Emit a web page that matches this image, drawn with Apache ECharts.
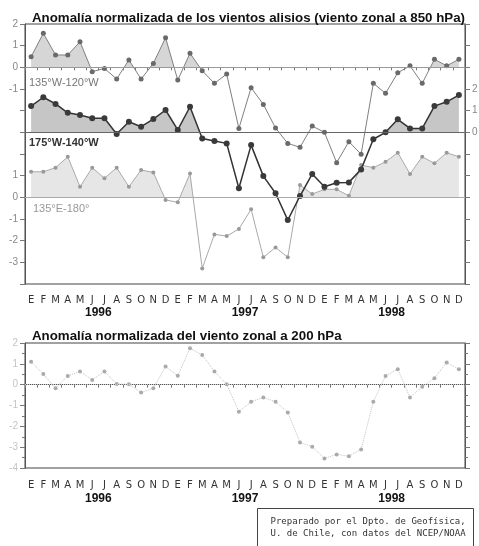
<!DOCTYPE html>
<html>
<head>
<meta charset="utf-8">
<script src="https://cdn.jsdelivr.net/npm/echarts@6.0.0/dist/echarts.min.js"></script>
<style>
    body { margin: 0; background: #fff; }
    #chart { width: 479px; height: 546px; }
</style>
</head>
<body>
<div id="chart"></div>
<script>
// Trade wind anomalies 1996-1998 (850 hPa) and zonal wind at 200 hPa

const monthLetters = ['E', 'F', 'M', 'A', 'M', 'J', 'J', 'A', 'S', 'O', 'N', 'D'];
const years = ['1996', '1997', '1998'];

// 135°W-120°W
const east850 = [0.49, 1.57, 0.57, 0.57, 1.18, -0.2, -0.05, -0.54, 0.34, -0.54, 0.18, 1.37,
    -0.59, 0.65, -0.16, -0.74, -0.31, -2.82, -0.94, -1.71, -2.8, -3.51, -3.69, -2.71,
    -3.0, -4.4, -3.43, -4.01, -0.74, -1.2, -0.25, 0.07, -0.74, 0.37, 0.07, 0.37];

// 175°W-140°W
const central850 = [1.21, 1.62, 1.31, 0.9, 0.8, 0.65, 0.65, -0.08, 0.49, 0.26, 0.61, 1.03,
    0.11, 1.18, -0.28, -0.4, -0.51, -2.58, -0.59, -2.02, -2.81, -4.05, -2.94, -1.92,
    -2.51, -2.33, -2.31, -1.71, -0.32, 0.0, 0.6, 0.18, 0.18, 1.21, 1.41, 1.72];

// 135°E-180°
const west850 = [1.18, 1.18, 1.37, 1.87, 0.49, 1.37, 0.88, 1.37, 0.49, 1.26, 1.15, -0.12,
    -0.23, 1.1, -3.28, -1.71, -1.79, -1.46, -0.55, -2.77, -2.31, -2.77, 0.57, 0.15,
    0.37, 0.37, 0.07, 1.49, 1.37, 1.64, 2.06, 1.08, 1.87, 1.57, 2.06, 1.87];

// zonal wind 200 hPa
const zonal200 = [1.1, 0.51, -0.17, 0.42, 0.63, 0.23, 0.63, 0.03, 0.02, -0.38, -0.17, 0.87,
    0.43, 1.75, 1.43, 0.63, 0.02, -1.3, -0.82, -0.61, -0.82, -1.33, -2.77, -2.98,
    -3.54, -3.35, -3.43, -3.11, -0.82, 0.42, 0.74, -0.61, -0.1, 0.31, 1.06, 0.74];

const monthKeys = [];
years.forEach(y => monthLetters.forEach((m, i) => monthKeys.push(y + '-' + (i + 1))));

const FONT = 'Liberation Sans';

document.addEventListener('DOMContentLoaded', function() {
    const chart = echarts.init(document.getElementById('chart'), null, { renderer: 'canvas' });
    chart.setOption(buildOption());
});

function monthAxis(gridIndex, margin) {
    return {
        type: 'category',
        gridIndex: gridIndex,
        data: monthKeys,
        boundaryGap: true,
        axisLine: { lineStyle: { color: '#555', width: 1 } },
        axisTick: { show: true, interval: 0, length: 3, lineStyle: { color: '#777' } },
        axisLabel: {
            interval: 0,
            margin: margin,
            color: '#333',
            fontFamily: 'DejaVu Sans',
            fontSize: 10,
            formatter: (v, i) => monthLetters[i % 12]
        },
        splitLine: { show: false }
    };
}

function yearAxis(gridIndex, margin) {
    return {
        type: 'category',
        gridIndex: gridIndex,
        position: 'bottom',
        data: years,
        axisLine: { show: false },
        axisTick: { show: false },
        axisLabel: { interval: 0, margin: margin, color: '#111', fontFamily: FONT, fontWeight: 'bold', fontSize: 12 },
        splitLine: { show: false }
    };
}

function valueAxis(gridIndex, position, min, max, labelFn, showLine, labelColor) {
    return {
        type: 'value',
        gridIndex: gridIndex,
        position: position,
        min: min,
        max: max,
        interval: 1,
        axisLine: { show: showLine, lineStyle: { color: '#555', width: 1 } },
        axisTick: { show: showLine, length: 5, lineStyle: { color: '#777' } },
        axisLabel: {
            margin: 7,
            color: labelColor || '#888',
            fontFamily: FONT,
            fontSize: 10,
            formatter: labelFn
        },
        splitLine: { show: false }
    };
}

function zeroLine(color, type) {
    return {
        silent: true,
        symbol: 'none',
        label: { show: false },
        lineStyle: { color: color, type: type, width: 1 },
        data: [{ yAxis: 0 }]
    };
}

function areaSeries(yIndex, data) {
    return {
        type: 'line',
        xAxisIndex: 0,
        yAxisIndex: yIndex,
        data: data,
        showSymbol: false,
        silent: true,
        z: 1,
        lineStyle: { width: 0, opacity: 0 },
        areaStyle: { opacity: 1 }
    };
}

// shade only the part of the area that lies above the zero line
function positiveFill(seriesIndex, color) {
    return {
        type: 'piecewise',
        show: false,
        seriesIndex: seriesIndex,
        dimension: 1,
        pieces: [
            { gt: 0, lte: 50, color: color },
            { gt: -50, lte: 0, color: 'rgba(255,255,255,0)' }
        ]
    };
}

function buildOption() {
    return {
        backgroundColor: '#fff',
        animation: false,
        textStyle: { fontFamily: FONT },
        title: [
            {
                text: 'Anomalía normalizada de los vientos alisios (viento zonal a 850 hPa)',
                left: 27, top: 7,
                textStyle: { fontSize: 13.3, fontWeight: 'bold', color: '#111', fontFamily: FONT }
            },
            {
                text: 'Anomalía normalizada del viento zonal a 200 hPa',
                left: 27, top: 325,
                textStyle: { fontSize: 13.3, fontWeight: 'bold', color: '#111', fontFamily: FONT }
            }
        ],
        grid: [
            { left: 25, right: 14, top: 24, height: 260, show: true, borderColor: '#444', borderWidth: 1, backgroundColor: 'transparent', outerBoundsMode: 'none' },
            { left: 25, right: 14, top: 343, height: 125, show: true, borderColor: '#444', borderWidth: 1, backgroundColor: 'transparent', outerBoundsMode: 'none' }
        ],
        xAxis: [
            monthAxis(0, 11),
            yearAxis(0, 23),
            monthAxis(1, 12),
            yearAxis(1, 25)
        ],
        yAxis: [
            // each 850 hPa band has its own scale, offset by 3 units
            valueAxis(0, 'left', -10, 2, v => (v >= -1 ? String(v) : ''), true),
            valueAxis(0, 'right', -7, 5, v => (v >= 0 && v <= 2 ? String(v) : ''), true),
            valueAxis(0, 'left', -4, 8, v => (v >= -3 && v <= 1 ? String(v) : ''), false),
            Object.assign(valueAxis(1, 'left', -4, 2, v => String(v), true, '#c4c4c4'), {
                minorTick: { show: true, splitNumber: 2, length: 3, lineStyle: { color: '#777' } }
            }),
            Object.assign(valueAxis(1, 'right', -4, 2, () => '', true), {
                minorTick: { show: true, splitNumber: 2, length: 3, lineStyle: { color: '#777' } }
            })
        ],
        visualMap: [
            positiveFill(0, '#d6d6d6'),
            positiveFill(2, '#c6c6c6'),
            positiveFill(4, '#e6e6e6')
        ],
        series: [
            areaSeries(0, east850),
            {
                name: '135°W-120°W',
                type: 'line',
                xAxisIndex: 0,
                yAxisIndex: 0,
                data: east850,
                z: 3,
                symbol: 'circle',
                symbolSize: 5,
                lineStyle: { color: '#808080', width: 1 },
                itemStyle: { color: '#6a6a6a' },
                markLine: zeroLine('#999', 'solid')
            },
            areaSeries(1, central850),
            {
                name: '175°W-140°W',
                type: 'line',
                xAxisIndex: 0,
                yAxisIndex: 1,
                data: central850,
                z: 4,
                symbol: 'circle',
                symbolSize: 6,
                lineStyle: { color: '#333', width: 1.5 },
                itemStyle: { color: '#3a3a3a' },
                markLine: zeroLine('#666', 'solid')
            },
            areaSeries(2, west850),
            {
                name: '135°E-180°',
                type: 'line',
                xAxisIndex: 0,
                yAxisIndex: 2,
                data: west850,
                z: 2,
                symbol: 'circle',
                symbolSize: 4,
                lineStyle: { color: '#aaa', width: 1 },
                itemStyle: { color: '#999' },
                markLine: zeroLine('#aaa', 'solid')
            },
            {
                name: '200 hPa',
                type: 'line',
                xAxisIndex: 2,
                yAxisIndex: 3,
                data: zonal200,
                symbol: 'circle',
                symbolSize: 4,
                lineStyle: { color: '#c4c4c4', width: 1, type: 'dotted' },
                itemStyle: { color: '#aaa' },
                markLine: zeroLine('#ccc', 'dotted')
            }
        ],
        graphic: [
            { type: 'text', left: 29, top: 77, style: { text: '135°W-120°W', fill: '#777', font: '11px ' + FONT } },
            { type: 'text', left: 29, top: 137, style: { text: '175°W-140°W', fill: '#333', font: 'bold 11px ' + FONT } },
            { type: 'text', left: 33, top: 203, style: { text: '135°E-180°', fill: '#999', font: '11px ' + FONT } },
            {
                type: 'group',
                left: 257,
                top: 508,
                children: [
                    { type: 'rect', shape: { x: 0, y: 0, width: 216, height: 40 }, style: { fill: '#fff', stroke: '#444', lineWidth: 1 } },
                    { type: 'text', left: 13, top: 9, style: { text: 'Preparado por el Dpto. de Geofísica,', fill: '#333', font: '9px DejaVu Sans Mono' } },
                    { type: 'text', left: 13, top: 21, style: { text: 'U. de Chile, con datos del NCEP/NOAA', fill: '#333', font: '9px DejaVu Sans Mono' } }
                ]
            }
        ]
    };
}
</script>
</body>
</html>
